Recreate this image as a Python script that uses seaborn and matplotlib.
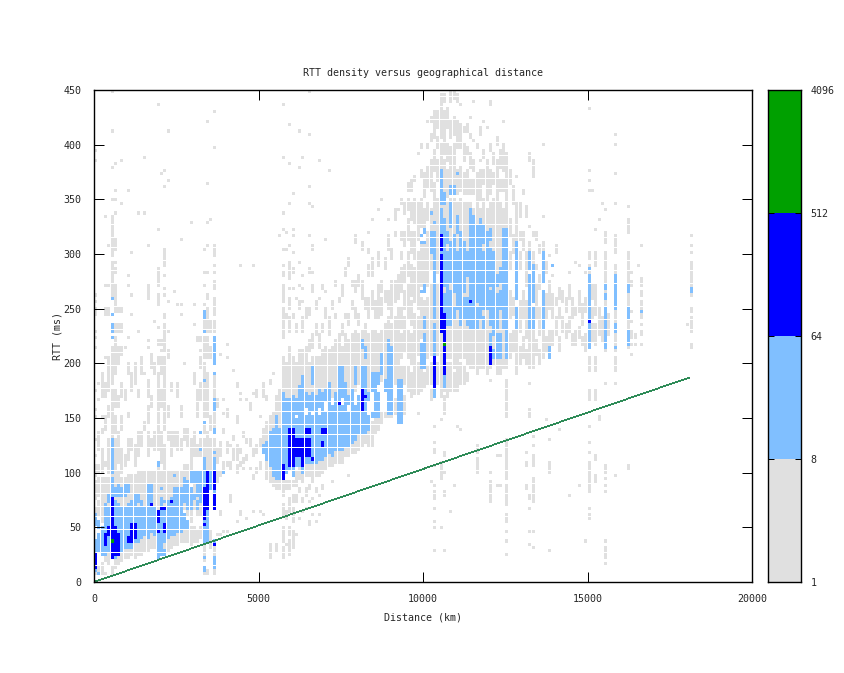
import matplotlib
matplotlib.use("Agg")
import pandas as pd
import matplotlib.pyplot as plt
import seaborn as sns

# histogram: distance bin (x100 km) -> RTT values / ranges (ms)
GREY = {
    0: [(6, 12), (60, 66), (75, 90), (96, 105), 115, 130, 150, 158, 175, 213, 222, 228, (245, 250), 255, 263, 384, 393],
    1: [(6, 12), (60, 72), (78, 93), (100, 105), (120, 135), 165, 180],
    2: [(6, 15), (54, 93), (100, 120), (135, 140), 150, (170, 190)],
    3: [6, (18, 24), (60, 93), (105, 110), (140, 150), (170, 180), 205, (245, 250), 272, 333],
    4: [(15, 24), (66, 93), (100, 130), (150, 160), (175, 205), (245, 250), 272, 308],
    5: [(6, 12), (90, 135), (140, 175), (180, 215), 223, 230, 245, (258, 290), 293, (297, 312), 315, (318, 333), 350, 378, 412, 448],
    6: [(12, 21), (72, 130), (135, 150), (160, 175), (190, 214), (216, 223), (228, 235), (246, 262), (265, 270), 282, 287, 293, (305, 312), 336, 348, 357, 381],
    7: [(15, 27), (69, 100), (110, 135), (160, 170), (200, 214), (228, 235), (246, 250)],
    8: [(18, 27), (66, 93), (100, 120), (140, 150), (170, 180), (208, 214), (228, 235), (246, 250), 345, 384],
    9: [(21, 30), (66, 93), (105, 115), (165, 175), 215],
    10: [(21, 30), (69, 96), (112, 130), (150, 155), (190, 200), 223, 272, 281, 357],
    11: [(24, 30), (72, 96), (120, 130), (175, 190), 245, 261, 300],
    12: [(21, 36), (78, 96), (105, 125), (180, 200)],
    13: [(24, 36), (66, 72), (78, 100), (115, 135), (168, 176), 228, 338],
    14: [(24, 39), (72, 100), (125, 135), (190, 205)],
    15: [(27, 42), (66, 100), (140, 145), 190, 336, 387],
    16: [(27, 39), (69, 72), (87, 100), (115, 135), (145, 160), (170, 185), 213, 220, (258, 272), 308],
    17: [(30, 45), (66, 72), (87, 100), (125, 130), (160, 170), (195, 209)],
    18: [(30, 42), (57, 60), (66, 100), (120, 135), (190, 200), 238],
    19: [(24, 27), (30, 110), (120, 190), (200, 206), (216, 220), 233, (253, 263), (272, 284), 287, 322, 436],
    20: [(27, 36), (48, 100), (110, 135), (160, 175), (190, 206), 212, (216, 220), 372],
    21: [(27, 45), (52, 125), (140, 180), (185, 206), (212, 235), (240, 245), 261, 269, 281, (290, 305), 360, 375],
    22: [(27, 40), (60, 100), (130, 135), (150, 160), (205, 212), 228, 255, 367, 412],
    23: [(30, 42), (60, 100), (115, 135), (175, 180)],
    24: [(33, 42), (60, 100), (125, 135), 266],
    25: [(33, 45), (60, 100), (120, 135), (170, 180), 252],
    26: [(36, 45), (63, 100), (120, 130), (150, 160), 245, 252, 312],
    27: [(36, 48), (66, 105), (130, 140), 200],
    28: [(36, 48), (60, 105), (125, 140)],
    29: [(33, 48), (54, 66), (100, 130), 328],
    30: [(36, 48), (66, 100), (115, 135), (180, 190), 235, 252],
    31: [(36, 45), (60, 100), (115, 125), (150, 175), (220, 223)],
    32: [(39, 48), (60, 100), (115, 130), (165, 180), (195, 205), 211, (220, 223)],
    33: [(6, 12), (18, 50), (55, 130), (135, 145), (150, 200), (206, 224), (228, 238), 252, 272, 284, 305],
    34: [(6, 9), (36, 50), (55, 135), (150, 190), (206, 224), (228, 238), (240, 250), (258, 263), 284, 308, 328, 363, 421],
    35: [(30, 45), (100, 130), (140, 150), (206, 214), (228, 238), 330],
    36: [(6, 30), (100, 130), (135, 190), (206, 214), (228, 238), (245, 260), (268, 275), 284, 290, (297, 308), 396, 430],
    37: [42, (90, 99), (108, 120), (160, 166)],
    38: [44, (60, 63), (96, 99), (114, 126), 208],
    39: [45, (102, 108), (135, 140), 153, 165],
    40: [46, (105, 108), (117, 126), (150, 156), 205, 217],
    41: [(72, 78), (102, 108), 123],
    42: [(111, 120), (129, 132), 192],
    43: [55, (99, 105), (111, 123), (144, 150), (177, 180)],
    44: [(60, 63), (105, 108), (117, 120), 165, 171, 290],
    45: [102, (108, 111), (132, 135)],
    46: [57, (111, 114), (126, 129), 165],
    47: [102, (123, 129), (156, 162)],
    48: [65, (93, 96), (114, 120), 171, 290],
    49: [(99, 102), (117, 123), (168, 174)],
    50: [65, (102, 108), (123, 129), 150],
    51: [60, (125, 140), (170, 180)],
    52: [(95, 110), (126, 145), (165, 170)],
    53: [(23, 34), (90, 105), (135, 150), (180, 185)],
    54: [(88, 96), (138, 155), 190],
    55: [(28, 34), (85, 93), (150, 170)],
    56: [(85, 93), (140, 175), 316],
    57: [(22, 30), (36, 48), (60, 70), (78, 92), (150, 205), (222, 250), (255, 272), 281, 284, 290, 305, 322, 338, 387, 436],
    58: [33, (57, 63), (84, 92), (150, 200), (240, 245), 305, 319],
    59: [(25, 36), (42, 50), (63, 75), (84, 92), (165, 215), (230, 240), (250, 260), 268, (278, 293), 308, 345, 381, 418],
    60: [(30, 45), (54, 66), (72, 80), (87, 92), (165, 205), (240, 245), 268, 283, 287, 300, 316, 322, 354],
    61: [42, (72, 78), (87, 100), (165, 200), (228, 235), 260],
    62: [57, (81, 84), (93, 103), (160, 210), (250, 255), 272, 293, 378, 412],
    63: [63, (72, 75), (90, 100), (165, 210), (230, 240), 255, 268, 281, 387],
    64: [66, (78, 84), (96, 105), (165, 215), (240, 250)],
    65: [(51, 54), 72, (84, 87), (96, 105), (165, 200), (210, 220), (245, 250), 283, 287, 316, 345, 360, 409, 448],
    66: [60, 75, (90, 105), (165, 205), (215, 225), (265, 270), 283, (305, 308), 342],
    67: [55, (81, 84), (96, 105), (165, 205), (225, 235), (250, 255)],
    68: [60, 78, (96, 110), (165, 205), (215, 225), 260, 384],
    69: [(84, 87), (100, 110), (165, 210), (228, 235), (268, 272)],
    70: [(102, 114), (165, 215), (240, 250), 266, 312],
    71: [(105, 116), (165, 210), (225, 240), 375],
    72: [90, (105, 114), (170, 215), (250, 255)],
    73: [(108, 118), (170, 220), (240, 245), (270, 275)],
    74: [(110, 118), (170, 225), (255, 260)],
    75: [(110, 120), (170, 215), (225, 235), (262, 270)],
    76: [(114, 124), (175, 225), (240, 245), (280, 285)],
    77: [96, (115, 124), (170, 220), (235, 245), (290, 295)],
    78: [(118, 126), (175, 225), (250, 255), (270, 275)],
    79: [(118, 128), (175, 230), (240, 250), (265, 275), (310, 315)],
    80: [(120, 134), (180, 225), (235, 245), (270, 280)],
    81: [(124, 135), (180, 230), (260, 275), (305, 310)],
    82: [(126, 135), (180, 235), (250, 260)],
    83: [(125, 140), (175, 225), (240, 260), (280, 290), (300, 305), 320],
    84: [(125, 145), (180, 230), (250, 265), (280, 295), 330],
    85: [(135, 150), (180, 230), (240, 255)],
    86: [(140, 150), (180, 225), (240, 270), (290, 300), 340],
    87: [(145, 155), (185, 230), (245, 260), (265, 275), 349],
    88: [(150, 155), (180, 235), (255, 265), (285, 295)],
    89: [(150, 155), (185, 240), (250, 265), (305, 315), 330],
    90: [(150, 160), (180, 235), (240, 275), (295, 305)],
    91: [(155, 165), (180, 240), (255, 275), (315, 320), (330, 340)],
    92: [(145, 165), (185, 250), (260, 280), 340],
    93: [(150, 165), (175, 195), (205, 225), (232, 250), (265, 285), (295, 300), (312, 318), (346, 349)],
    94: [(155, 170), (180, 195), (210, 240), (250, 265), (275, 290), (306, 318), (336, 345)],
    95: [(175, 195), (205, 230), (240, 270), (280, 300), (312, 330), (340, 349), (357, 363)],
    96: [(168, 190), (198, 225), (235, 255), (262, 290), (300, 318), (330, 345), (357, 366)],
    97: [(172, 195), (200, 245), (255, 285), (295, 320), (328, 348), (366, 370)],
    98: [154, (172, 200), (208, 240), (250, 300), (312, 345), 390],
    99: [(175, 210), (222, 260), (270, 310), (325, 348), (370, 375), (396, 400)],
    100: [(178, 190), (198, 255), (272, 310), (325, 340), (352, 372)],
    101: [(182, 195), (204, 260), (270, 318), (330, 345), (362, 378), (396, 400), 420],
    102: [91, (165, 175), (180, 200), (208, 270), (285, 340), (357, 384), (402, 408), (420, 425)],
    103: [28, 49, 55, 67, (75, 82), 88, 106, (118, 120), 128, 143, (170, 345), (350, 365), (375, 395), (405, 430)],
    104: [(180, 200), (208, 270), (282, 348), (366, 385), (396, 405), (414, 429)],
    105: [49, (93, 108), 149, (170, 235), (340, 400), (405, 445)],
    106: [28, (78, 81), 100, (115, 118), (155, 169), (175, 190), (230, 345), (350, 385), (390, 430), (440, 445)],
    107: [(170, 200), (205, 345), (352, 375), (384, 400), (414, 432)],
    108: [64, (175, 200), (205, 350), (360, 396), (405, 420), (438, 449)],
    109: [88, (175, 190), (195, 350), (357, 400), (408, 425), (441, 449)],
    110: [143, (175, 195), (200, 345), (354, 375), (396, 420), (438, 444)],
    111: [138, (180, 200), (205, 350), (357, 380), (396, 417), 435],
    112: [(180, 195), (205, 345), (354, 372), (384, 399), (411, 414)],
    113: [(185, 190), (200, 345), (354, 375), (390, 396), (411, 417)],
    114: [(195, 345), (354, 366), (378, 390), (405, 408), 425],
    115: [(195, 340), (354, 366), (375, 384), 402, 440],
    116: [(100, 108), 113, (119, 124), (190, 345), (350, 372), (396, 399)],
    117: [(195, 340), (350, 375), 385, (410, 415)],
    118: [(195, 350), (363, 375), (387, 393), 420],
    119: [(190, 340), (350, 385), 415],
    120: [(74, 91), 101, 185, (195, 345), (355, 375), (395, 400), (435, 440)],
    121: [(200, 350), (363, 372), (381, 390)],
    122: [88, 116, (190, 345), (350, 385), (400, 405)],
    123: [88, 116, (190, 345), (357, 366), (378, 393)],
    124: [(195, 340), (357, 366), (375, 399), 420],
    125: [24, 37, 46, (54, 62), 70, (74, 88), (93, 122), (125, 130), (150, 185), (195, 235), (240, 345), (350, 390)],
    126: [(205, 225), (240, 265), (285, 300), (315, 330), (365, 375)],
    127: [(210, 230), (245, 260), (300, 315), (345, 360)],
    128: [(190, 230), (310, 345), 370],
    129: [(200, 215), (228, 255), (285, 300), (312, 320), (335, 345)],
    130: [(205, 222), (240, 265), (303, 318), (354, 357)],
    131: [(84, 89), (106, 110), 118, (198, 212), (222, 255), (270, 300), (333, 342)],
    132: [35, 45, 67, 75, 80, (150, 158), 180, (196, 230), (300, 310), 325, (385, 390)],
    133: [31, 45, (73, 81), (85, 90), 95, (106, 115), 125, 132, (196, 230), (290, 300), (315, 320), (370, 385)],
    134: [(208, 220), (240, 270), (285, 290), (312, 318)],
    135: [(198, 210), (225, 250), (268, 280), (300, 306)],
    136: [(205, 230), (300, 310), 333, 400],
    137: [149, (212, 222), (240, 262), (282, 292)],
    138: [28, (100, 108), 131, (216, 228), (250, 275), 297],
    139: [(218, 228), (240, 262), 280],
    140: [(225, 240), (252, 258), (300, 306)],
    141: [138, (212, 222), (240, 250), (260, 268)],
    142: [(228, 240), (255, 264)],
    143: [(222, 234), (246, 258)],
    144: [79, (228, 240), (258, 270), 282],
    145: [(216, 225), (240, 258)],
    146: [(216, 228), (243, 249), 292],
    147: [88, (222, 231), (246, 264), 288],
    148: [(216, 222), (234, 252)],
    149: [37, (210, 225), (246, 258), 282],
    150: [(57, 62), 67, 82, (85, 98), (101, 108), 119, 127, 142, (165, 175), (193, 205), (215, 290), (295, 300), 358, 367, 375, 433],
    151: [(220, 235), (240, 250), (260, 270), 358],
    152: [(90, 98), (112, 116), (165, 175), (193, 205), (218, 234), (245, 270), (290, 300), 322],
    153: [(148, 152), (225, 250), 330],
    154: [(220, 240), 345],
    155: [16, (22, 30), 37, 82, 88, 95, (100, 105), 180, (210, 300), (310, 320), 340],
    156: [(225, 245)],
    158: [98, 180, (193, 205), (210, 290), (300, 315), 346, 373, 400, 409],
    162: [(102, 106), (215, 265), (275, 300), (320, 330), 343],
    163: [208, 217, (222, 230), 237, 247, 270, 274, 283],
    164: [(222, 225), 217],
    165: [288],
    166: [217, (225, 229), 234, (240, 245), 250, (252, 257), (261, 266), 270, (273, 278), 307],
    180: [234],
    181: [(214, 218), 228, (230, 238), 241, (246, 250), 262, (271, 279), (282, 292), 301, 307, 316],
}
LIGHT = {
    0: [9, (24, 36), (51, 60)],
    1: [6, (27, 42), (48, 54)],
    2: [(24, 48)],
    3: [(24, 69)],
    4: [(27, 66), (72, 80)],
    5: [(75, 94), (100, 131), 223, (230, 236), 245, 260],
    6: [(21, 72), (78, 84)],
    7: [(27, 69), (78, 87)],
    8: [(27, 66), (78, 84)],
    9: [(30, 66), (78, 87)],
    10: [(30, 69), (81, 87)],
    11: [(30, 72)],
    12: [(36, 78)],
    13: [(36, 66), (72, 78)],
    14: [(39, 72)],
    15: [(42, 66)],
    16: [(39, 69), (72, 87)],
    17: [(45, 66), (72, 87)],
    18: [(42, 57), (60, 66)],
    19: [(23, 60), (105, 110)],
    20: [(24, 36), (39, 75), 84],
    21: [(24, 27), (36, 66), 72],
    22: [(40, 72)],
    23: [(42, 75)],
    24: [(42, 84), 96],
    25: [(45, 84)],
    26: [(45, 84)],
    27: [(48, 60), (72, 93)],
    28: [(48, 54), (66, 90)],
    29: [(66, 84), (90, 100)],
    30: [(75, 80), (90, 100)],
    31: [(66, 72), (78, 100)],
    32: [(72, 100), 120, 137],
    33: [(10, 14), 23, (38, 64), (66, 100), (100, 112), 145, 183, 228, (240, 246)],
    34: [(38, 64), (84, 100)],
    35: [(84, 100)],
    36: [(12, 23), (35, 38), (66, 112), 119, (135, 140), (157, 167), 191, (200, 211), (215, 223)],
    39: [100],
    51: [(117, 123)],
    52: [(111, 126)],
    53: [(105, 135)],
    54: [(96, 138)],
    55: [(93, 150)],
    56: [(93, 140)],
    57: [(95, 172)],
    58: [(100, 165)],
    59: [(102, 166)],
    60: [(96, 170)],
    61: [(105, 148), (155, 165)],
    62: [(105, 178)],
    63: [(100, 188)],
    64: [(108, 150), (160, 172)],
    65: [(108, 168)],
    66: [(108, 150), (156, 172), (182, 195)],
    67: [(108, 170)],
    68: [(112, 150), (160, 176)],
    69: [(112, 172)],
    70: [(115, 155), (165, 175)],
    71: [(118, 180)],
    72: [(115, 160)],
    73: [(120, 172)],
    74: [(120, 197)],
    75: [(122, 160), (168, 195)],
    76: [(125, 180)],
    77: [(125, 155), (162, 170)],
    78: [(128, 175)],
    79: [(130, 160), (182, 197)],
    80: [(135, 170)],
    81: [(136, 197), (215, 220)],
    82: [(136, 197), (205, 215)],
    83: [(140, 150), (165, 172)],
    84: [(150, 155), (175, 190)],
    85: [(150, 190)],
    86: [(150, 172), (180, 190)],
    87: [(190, 208)],
    88: [(175, 185)],
    89: [(155, 220)],
    90: [(155, 215)],
    92: [(145, 185)],
    93: [(145, 185)],
    99: [(197, 218), 266, 311, 317],
    100: [(196, 227), (232, 240), (265, 270), 311, (318, 323)],
    102: [(302, 318), 338],
    103: [(170, 235), (240, 320), 327],
    105: [(229, 340), (345, 376)],
    106: [(178, 190), (231, 262), (270, 330), (345, 355)],
    107: [(235, 300), (310, 320)],
    108: [(235, 265), (275, 310), (325, 345), (355, 360)],
    109: [(240, 250), (265, 315), (355, 360)],
    110: [(250, 300), (320, 335), 372],
    111: [(235, 320)],
    112: [(240, 260), (265, 310)],
    113: [(235, 260), (280, 300)],
    114: [(232, 340)],
    115: [(232, 335)],
    116: [(232, 250), (255, 325)],
    117: [(240, 330)],
    118: [(232, 240), (250, 300), (310, 325)],
    119: [(250, 320)],
    120: [(198, 225), (235, 265), (270, 305), (312, 322)],
    121: [(205, 210), (225, 300)],
    122: [(205, 225), (232, 262), (270, 280)],
    123: [(205, 225), (250, 265), (275, 285)],
    124: [(232, 322)],
    125: [(205, 230), (232, 322)],
    128: [(232, 250), (258, 310)],
    132: [(232, 280), (285, 300)],
    133: [(232, 250), (255, 290)],
    136: [(232, 265), (275, 300)],
    138: [(205, 215)],
    139: [290],
    150: [(215, 280), 285],
    155: [(213, 232), (236, 250), (258, 262), (268, 272)],
    158: [213, (230, 236), (250, 280)],
    162: [(218, 228), (240, 250), (265, 272)],
    166: [247],
    181: [(264, 269)],
}
BLUE = {
    0: [(12, 24)],
    3: [(33, 42)],
    4: [(42, 48)],
    5: [(22, 52), (56, 63), (64, 75)],
    6: [(24, 48)],
    7: [(24, 42)],
    10: [(36, 40)],
    11: [(36, 52)],
    12: [(40, 52)],
    17: [70],
    19: [45, (55, 64)],
    20: [67],
    21: [(45, 52), 67],
    23: [73],
    33: [52, (58, 64), (67, 84)],
    34: [(67, 84), (85, 92), (93, 99)],
    36: [35, 66, (69, 80), (84, 93), (96, 99)],
    57: [(95, 105)],
    59: [(105, 140)],
    60: [(105, 140)],
    61: [(115, 130)],
    62: [(115, 130)],
    63: [(105, 130)],
    64: [(115, 130), (135, 140)],
    65: [(115, 130), (135, 140)],
    66: [112],
    69: [(125, 128), (135, 140)],
    70: [(135, 140)],
    74: [162],
    81: [(157, 175)],
    82: [170],
    103: [(177, 206)],
    105: [(229, 260), (262, 299), (303, 317)],
    106: [(189, 230), (231, 245)],
    114: [256],
    120: [(198, 213)],
    150: [238],
}
GREEN = {5: [38], 106: [217]}

LEVELS = ["1-8", "8-64", "64-512", "512-4096"]
LEVEL_COLORS = ["#e0e0e0", "#80bfff", "#0000ff", "#00a000"]
LEVEL_EDGES = [1, 8, 64, 512, 4096]

LINE_KM = [0, 4400, 18100]
LINE_RTT = [0, 45.5, 187]

X_TICKS = [0, 5000, 10000, 15000, 20000]
Y_TICKS = [0, 50, 100, 150, 200, 250, 300, 350, 400, 450]

KM_BIN = 100
MS_BIN = 3


def build_frame():
    cells = {}
    for level, runs in zip(LEVELS, [GREY, LIGHT, BLUE, GREEN]):
        for col, items in runs.items():
            for item in items:
                lo, hi = item if isinstance(item, tuple) else (item, item)
                for row in range(lo // MS_BIN, hi // MS_BIN + 1):
                    cells[(col, row)] = level
    rows = [((c + 0.5) * KM_BIN, (r + 0.5) * MS_BIN, lvl) for (c, r), lvl in cells.items()]
    return pd.DataFrame(rows, columns=["distance", "rtt", "level"])


def main():
    sns.set_style("white")
    plt.rcParams["font.family"] = ["DejaVu Sans Mono"]
    plt.rcParams["font.size"] = 7.2

    W, H = 845, 673
    fig = plt.figure(figsize=(W / 100, H / 100), dpi=100)
    ax = fig.add_axes([94 / W, (H - 582) / H, 658 / W, 492 / H])
    cax = fig.add_axes([768 / W, (H - 582) / H, 33 / W, 492 / H])

    df = build_frame()
    # 3 px square markers snap to the pixel grid, which leaves the thin white seams
    sns.scatterplot(data=df, x="distance", y="rtt", hue="level", hue_order=LEVELS,
                    palette=dict(zip(LEVELS, LEVEL_COLORS)), marker="s", s=4.67,
                    linewidth=0, legend=False, ax=ax)
    sns.lineplot(x=LINE_KM, y=LINE_RTT, color="#2e8b57", linewidth=0.45, antialiased=False, ax=ax)

    ax.set_xlim(0, 20000)
    ax.set_ylim(0, 450)
    ax.set_xticks(X_TICKS)
    ax.set_yticks(Y_TICKS)
    ax.set_axisbelow(False)
    ax.tick_params(direction="in", length=7.2, width=0.72, color="black", top=True,
                   right=True, bottom=True, left=True, labelsize=7.2)
    ax.tick_params(axis="x", pad=9)
    ax.tick_params(axis="y", pad=9)
    ax.set_xlabel("Distance (km)", fontsize=7.2, labelpad=6)
    ax.set_ylabel("RTT (ms)", fontsize=7.2, labelpad=1)
    ax.set_title("RTT density versus geographical distance", fontsize=7.2, pad=10)

    cax.set_yscale("log", base=2)
    for i, color in enumerate(LEVEL_COLORS):
        cax.axhspan(LEVEL_EDGES[i], LEVEL_EDGES[i + 1], color=color, linewidth=0)
    cax.set_ylim(1, 4096)
    cax.set_xticks([])
    cax.set_yticks(LEVEL_EDGES)
    cax.set_yticklabels([str(v) for v in LEVEL_EDGES])
    cax.minorticks_off()
    cax.yaxis.tick_right()
    cax.set_axisbelow(False)
    cax.tick_params(axis="y", direction="in", length=4.3, width=0.72, color="black",
                    left=True, right=True, pad=7, labelsize=7.2)

    for a in (ax, cax):
        for spine in a.spines.values():
            spine.set_color("black")
            spine.set_linewidth(1.0)

    fig.savefig("out.png", dpi=100)


if __name__ == "__main__":
    main()
